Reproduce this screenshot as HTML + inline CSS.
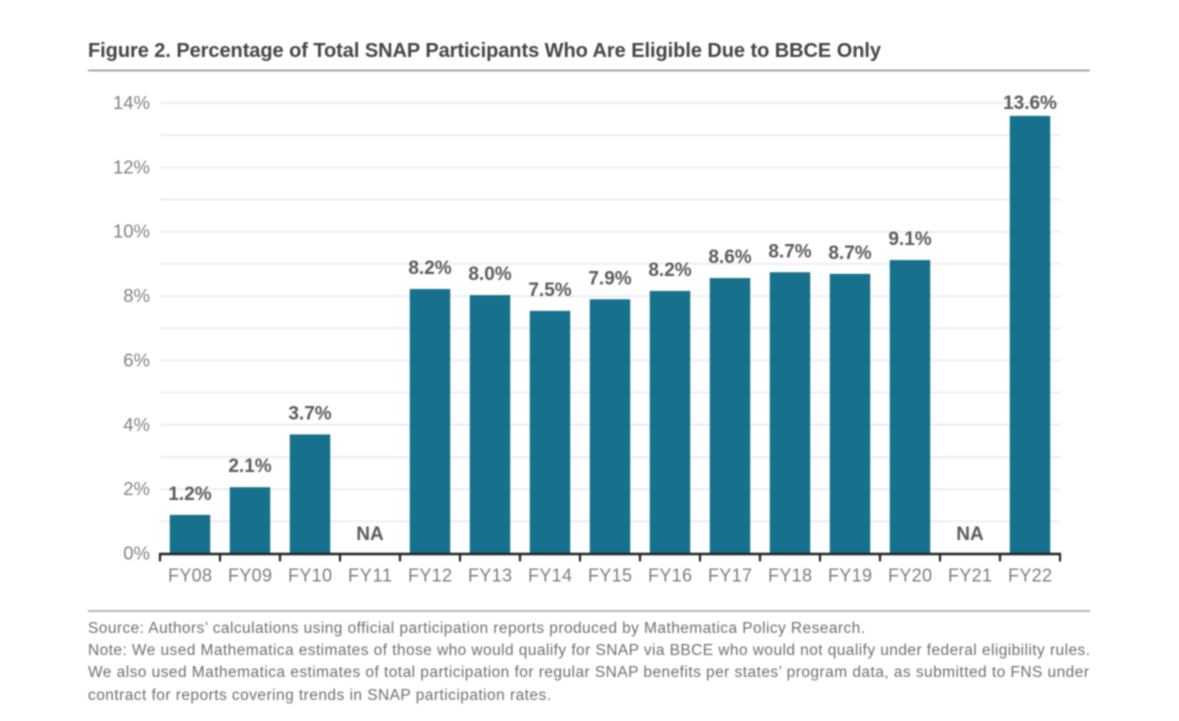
<!DOCTYPE html>
<html lang="en">
<head>
<meta charset="utf-8">
<title>Figure 2. Percentage of Total SNAP Participants Who Are Eligible Due to BBCE Only</title>
<style>
html,body{margin:0;padding:0;background:#fff;width:1179px;height:721px;overflow:hidden}
svg{display:block;filter:blur(0.7px);font-family:"Liberation Sans",sans-serif}
</style>
</head>
<body>
<svg id="chart" width="1179" height="721" viewBox="0 0 1179 721" xmlns="http://www.w3.org/2000/svg">
  <rect width="1179" height="721" fill="#fff"/>
  <text x="88" y="57" font-size="20" font-weight="700" fill="#444449" textLength="793" lengthAdjust="spacing">Figure 2. Percentage of Total SNAP Participants Who Are Eligible Due to BBCE Only</text>
  <line x1="88" x2="1090" y1="70.5" y2="70.5" stroke="#8c8c8c" stroke-width="1.6"/>
  <g id="grid"></g>
  <g id="bars"></g>
  <g id="axes"></g>
  <g id="values"></g>
  <line x1="88" x2="1090" y1="611" y2="611" stroke="#a0a0a0" stroke-width="1.4"/>
  <g font-size="15.5" fill="#6f6f73">
    <text x="88" y="633" textLength="777" lengthAdjust="spacing">Source: Authors’ calculations using official participation reports produced by Mathematica Policy Research.</text>
    <text x="88" y="655" textLength="1002" lengthAdjust="spacing">Note: We used Mathematica estimates of those who would qualify for SNAP via BBCE who would not qualify under federal eligibility rules.</text>
    <text x="88" y="677" textLength="1001" lengthAdjust="spacing">We also used Mathematica estimates of total participation for regular SNAP benefits per states’ program data, as submitted to FNS under</text>
    <text x="88" y="700" textLength="463" lengthAdjust="spacing">contract for reports covering trends in SNAP participation rates.</text>
  </g>
</svg>
<script>
const categories = ["FY08","FY09","FY10","FY11","FY12","FY13","FY14","FY15","FY16","FY17","FY18","FY19","FY20","FY21","FY22"];
const values = [1.2,2.06,3.7,null,8.22,8.03,7.54,7.9,8.16,8.56,8.74,8.69,9.12,null,13.6];
const yTicks = [0,2,4,6,8,10,12,14];
const gridSteps = [1,2,3,4,5,6,7,8,9,10,11,12,13,14];

const NS = "http://www.w3.org/2000/svg";
const plot = {left:160, right:1060, bottom:553.5, top:103};
const yMax = 14;
const barWidth = 40.5;
const y = v => plot.bottom - (v / yMax) * (plot.bottom - plot.top);
const band = (plot.right - plot.left) / categories.length;
const xCenter = i => plot.left + band * (i + 0.5);
const xEdge = i => plot.left + band * i;

function make(tag, attrs, parent, text){
  const el = document.createElementNS(NS, tag);
  for (const k in attrs) el.setAttribute(k, attrs[k]);
  if (text !== undefined) el.textContent = text;
  parent.appendChild(el);
  return el;
}

const gridG = document.getElementById("grid");
const barsG = document.getElementById("bars");
const axesG = document.getElementById("axes");
const valuesG = document.getElementById("values");

gridSteps.forEach(v => {
  const el = make("line", {x1:plot.left, x2:plot.right, y1:y(v), y2:y(v), stroke:"#eeeef3", "stroke-width":2}, gridG);
  
  
});

yTicks.forEach(v => {
  const el = make("text", {x:150, y:y(v)+6, "text-anchor":"end", "font-size":18.5, fill:"#808084"}, axesG, v + "%");
  
  
});

categories.forEach((c, i) => {
  const v = values[i];
  if (v !== null) {
    const bar = make("rect", {x:xCenter(i)-barWidth/2, y:y(v), width:barWidth, height:plot.bottom-y(v), fill:"#17708c"}, barsG);
    
    
    const labelY = Math.max(y(v) - 22 + 7, plot.top + 6);
    const lab = make("text", {x:xCenter(i), y:labelY, "text-anchor":"middle", "font-size":19, "font-weight":700, fill:"#5a5a5e"}, valuesG, v.toFixed(1) + "%");
    
    
  } else {
    const na = make("text", {x:xCenter(i), y:540, "text-anchor":"middle", "font-size":19, "font-weight":700, fill:"#5a5a5e"}, valuesG, "NA");
    
    
  }
  const t = make("text", {x:xCenter(i), y:581.5, "text-anchor":"middle", "font-size":18, fill:"#7c7c80", textLength:44, lengthAdjust:"spacing"}, axesG, c);
  
  
});

const axisLine = make("line", {x1:plot.left-1, x2:plot.right+1, y1:plot.bottom+0.5, y2:plot.bottom+0.5, stroke:"#222", "stroke-width":2.4}, axesG);



for (let i = 0; i <= categories.length; i++) {
  const tick = make("line", {x1:xEdge(i), x2:xEdge(i), y1:plot.bottom, y2:plot.bottom+8, stroke:"#222", "stroke-width":2.2}, axesG);
  
  
}
</script>
</body>
</html>
